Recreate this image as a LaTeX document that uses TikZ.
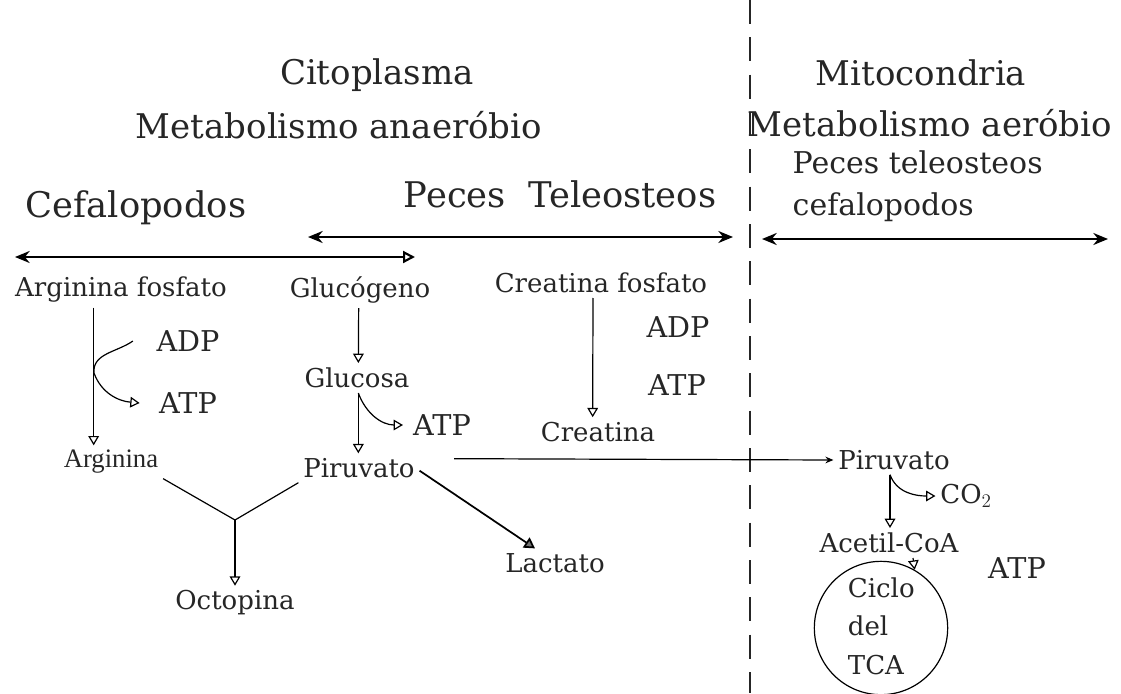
\documentclass[tikz,border=0pt]{standalone}
\usepackage{fontspec}
\setmainfont{DejaVu Serif}
\newfontfamily\timesfont{Liberation Serif}
\usetikzlibrary{arrows.meta}

\tikzset{
  title/.style={font=\fontsize{25.5}{30}\selectfont, text=black!85},
  subtitle/.style={font=\fontsize{22.5}{31.5}\selectfont, text=black!85, align=left},
  lbl/.style={font=\fontsize{19.5}{23}\selectfont, text=black!85, inner sep=3.5pt},
  cofac/.style={lbl, font=\fontsize{21.5}{25}\selectfont},
  tip/.style={-{Triangle[open,length=7pt,width=8pt]}, line width=0.9pt},
  tipfill/.style={-{Triangle[fill=black!55,length=8pt,width=9pt]}, line width=1.3pt},
  rangeline/.style={line width=1.6pt},
}

\begin{document}
\begin{tikzpicture}[x=0.75pt, y=-0.75pt]
            \useasboundingbox (0,0) rectangle (1121,693);

            % titulos
            \node[title] (cito) at (377, 75)  {Citoplasma};
            \node[title] (anae) at (339, 125) {Metabolismo anaeróbio};
            \node[title] (mito) at (921, 73)  {Mitocondria};
            \node[title] (aero) at (930, 123) {Metabolismo aeróbio};
            \node[title, font=\fontsize{26.5}{30}\selectfont] (cefa) at (136, 208) {Cefalopodos};
            \node[title, font=\fontsize{26.5}{30}\selectfont] (tele) at (560, 194) {Peces\ \ Teleosteos};
            \node[subtitle, anchor=west] (grupos) at (788, 186) {Peces teleosteos\\cefalopodos};

            \draw[line width=1.5pt, dash pattern=on 18pt off 10pt, black!85] (750,0) -- (750,693);

            % rangos
            \coordinate (r1a) at (15, 257);
            \coordinate (r1b) at (415, 257);
            \coordinate (r2a) at (308, 237);
            \coordinate (r2b) at (733, 237);
            \coordinate (r3a) at (762, 239);
            \coordinate (r3b) at (1108, 239);
            \draw[rangeline, {Stealth[length=11pt,width=9pt]}-{Triangle[open,length=9pt,width=9pt]}] (r1a) -- (r1b);
            \draw[rangeline, {Stealth[length=11pt,width=9pt]}-{Stealth[length=11pt,width=9pt]}] (r2a) -- (r2b);
            \draw[rangeline, {Stealth[length=11pt,width=9pt]}-{Stealth[length=11pt,width=9pt]}] (r3a) -- (r3b);

            % citoplasma
            \node[lbl]   (argf) at (121, 290) {Arginina fosfato};
            \node[cofac] (adp1) at (188, 341) {ADP};
            \node[cofac] (atp1) at (188, 403) {ATP};
            \node[lbl, font=\timesfont\fontsize{20}{23}\selectfont] (arg) at (111, 462) {Arginina};
            \node[lbl]   (glcg) at (360, 290) {Glucógeno};
            \node[lbl]   (glc)  at (357, 378) {Glucosa};
            \node[cofac] (atp2) at (442, 425) {ATP};
            \node[lbl]   (piru) at (359, 468) {Piruvato};
            \node[lbl]   (octo) at (235, 603) {Octopina};
            \node[lbl]   (lac)  at (555, 563) {Lactato};
            \node[lbl]   (crf)  at (601, 283) {Creatina fosfato};
            \node[cofac] (adp2) at (678, 327) {ADP};
            \node[cofac] (atp3) at (677, 385) {ATP};
            \node[lbl]   (cr)   at (598, 432) {Creatina};

            \coordinate (argm) at (94, 373);
            \coordinate (jn) at (235, 520);

            \draw[tip] ([xshift=-20.5pt]argf.south) -- ([xshift=-13pt]arg.north);
            \draw[tip] ([xshift=-14pt]adp1.west) to[out=215,in=95] (argm) to[out=-70,in=175] ([xshift=-11pt]atp1.west);
            \draw[tip] ([xshift=-1pt]glcg.south) -- ([xshift=1pt]glc.north);
            \draw[tip] ([xshift=1pt]glc.south) -- ([xshift=-0.5pt]piru.north);
            \draw[tip] ([xshift=1pt]glc.south) to[out=-70,in=180] ([xshift=-4pt]atp2.west);
            \draw[tip] ([xshift=-6pt]crf.south) -- ([xshift=-4pt]cr.north);
            \draw[line width=0.9pt] (arg.south east) -- (jn) -- (piru.south west);
            \draw[tip] (jn) -- (octo.north);
            \draw[tipfill] ([yshift=-2pt]piru.east) -- ([xshift=-15pt]lac.north);

            % mitocondria
            \node[lbl]   (piru2) at (894, 460) {Piruvato};
            \node[lbl]   (co2)   at (966, 496) {CO$_2$};
            \node[lbl]   (acet)  at (889, 543) {Acetil-CoA};
            \node[cofac] (atp4)  at (1017, 568) {ATP};
            \node[draw, circle, line width=0.9pt, minimum size=100pt] (tca) at (881, 628) {};
            \node[lbl, align=left, font=\fontsize{19.5}{29}\selectfont, anchor=west] (tcat) at (843, 626) {Ciclo\\del\\TCA};

            \draw[line width=0.9pt, -{Stealth[length=6pt,width=5pt]}] ([xshift=26pt,yshift=7pt]piru.east) -- (piru2.west);
            \draw[tip] ([xshift=-3pt]piru2.south) -- ([xshift=-3pt]piru2.south |- acet.north);
            \draw[tip] ([xshift=-3pt]piru2.south) to[out=-70,in=180] (co2.west);
            \draw[tip] ([xshift=18pt]acet.south) -- (tca.60);
        \end{tikzpicture}
\end{document}
